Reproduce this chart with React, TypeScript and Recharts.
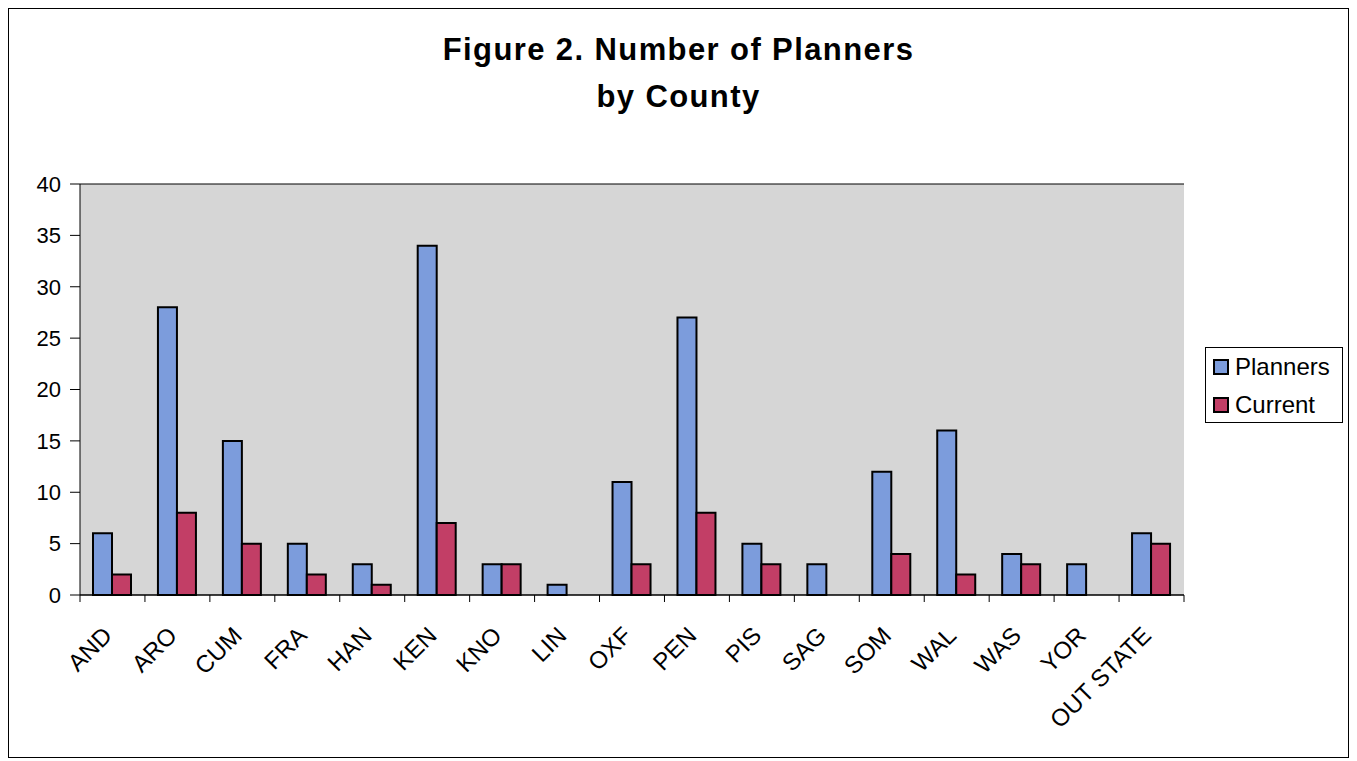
import React from 'react';
import { BarChart, Bar, XAxis, YAxis, CartesianGrid } from 'recharts';

// counties along the x axis
const counties = ['AND', 'ARO', 'CUM', 'FRA', 'HAN', 'KEN', 'KNO', 'LIN', 'OXF', 'PEN', 'PIS', 'SAG', 'SOM', 'WAL', 'WAS', 'YOR', 'OUT STATE'];
const planners = [6, 28, 15, 5, 3, 34, 3, 1, 11, 27, 5, 3, 12, 16, 4, 3, 6];
const current = [2, 8, 5, 2, 1, 7, 3, 0, 3, 8, 3, 0, 4, 2, 3, 0, 5];
const yTicks = [0, 5, 10, 15, 20, 25, 30, 35, 40];

const data = counties.map((county, i) => ({
  county,
  Planners: planners[i],
  Current: current[i],
}));

const series = [
  { key: 'Planners', color: '#7c9cdc' },
  { key: 'Current', color: '#c23e66' },
];

const FONT = '"Liberation Sans", Arial, sans-serif';
const W = 1339;
const H = 748;
const X_HEIGHT = 150;
const MARGIN = { top: 175, right: 164, left: 0, bottom: 12 };
const Y_WIDTH = 71;
const PLOT_W = W - MARGIN.left - MARGIN.right - Y_WIDTH;
const PLOT_BOTTOM = H - MARGIN.bottom - X_HEIGHT;
const BAND = PLOT_W / counties.length;

// category label rotated 45°, with the tick mark drawn at the left edge of the band
const CountyTick = (props: any) => {
  const { x, payload, index } = props;
  const left = x - BAND / 2;
  const right = x + BAND / 2;
  const ax = x + 1;
  const ay = PLOT_BOTTOM + 42;
  return (
    <g>
      <line x1={left} y1={PLOT_BOTTOM} x2={left} y2={PLOT_BOTTOM + 7} stroke="#000" strokeWidth={1} />
      {index === counties.length - 1 && (
        <line x1={right} y1={PLOT_BOTTOM} x2={right} y2={PLOT_BOTTOM + 7} stroke="#000" strokeWidth={1} />
      )}
      <text
        x={ax}
        y={ay}
        textAnchor="end"
        fontSize={24}
        fontFamily={FONT}
        fill="#000"
        transform={`rotate(-45, ${ax}, ${ay})`}
      >
        {payload.value}
      </text>
    </g>
  );
};

const LegendBox = () => (
  <div
    style={{
      position: 'absolute',
      left: 1196,
      top: 338,
      width: 136,
      height: 74,
      border: '1px solid #000',
      background: '#fff',
      fontFamily: FONT,
      fontSize: 24,
    }}
  >
    {series.map((s, i) => (
      <div
        key={s.key}
        style={{ position: 'absolute', left: 7, top: 5 + i * 38, height: 28, display: 'flex', alignItems: 'center' }}
      >
        <div style={{ width: 12, height: 12, background: s.color, border: '2px solid #000', marginRight: 6 }} />
        <span>{s.key}</span>
      </div>
    ))}
  </div>
);

export default function App() {
  return (
    <div
      style={{
        position: 'relative',
        width: W,
        height: H,
        border: '1px solid #000',
        background: '#fff',
        fontFamily: FONT,
      }}
    >
      <div
        style={{
          position: 'absolute',
          top: 17,
          left: 0,
          width: '100%',
          textAlign: 'center',
          fontSize: 31,
          fontWeight: 'bold',
          letterSpacing: '1.4px',
          lineHeight: '47px',
        }}
      >
        Figure 2. Number of Planners
        <br />
        by County
      </div>
      <BarChart
        width={W}
        height={H}
        data={data}
        margin={MARGIN}
        barGap={0}
        barSize={19}
        style={{ position: 'absolute', top: 0, left: 0 }}
      >
        <CartesianGrid vertical={false} stroke="#000" strokeOpacity={1} fill="#d6d6d6" fillOpacity={1} />
        <XAxis
          dataKey="county"
          interval={0}
          height={X_HEIGHT}
          tickLine={false}
          axisLine={{ stroke: '#000' }}
          tick={<CountyTick />}
        />
        <YAxis
          yAxisId="left"
          width={Y_WIDTH}
          domain={[0, 40]}
          ticks={yTicks}
          interval={0}
          tickSize={10}
          tickMargin={9}
          tickLine={{ stroke: '#000' }}
          axisLine={{ stroke: '#000' }}
          tick={{ fontSize: 22, fill: '#000', fontFamily: FONT }}
        />
        <YAxis
          yAxisId="right"
          orientation="right"
          width={0}
          domain={[0, 40]}
          tick={false}
          tickLine={false}
          axisLine={{ stroke: '#000' }}
        />
        {series.map((s) => (
          <Bar
            key={s.key}
            yAxisId="left"
            dataKey={s.key}
            fill={s.color}
            stroke="#000"
            strokeWidth={2}
            isAnimationActive={false}
          />
        ))}
      </BarChart>
      <LegendBox />
    </div>
  );
}
